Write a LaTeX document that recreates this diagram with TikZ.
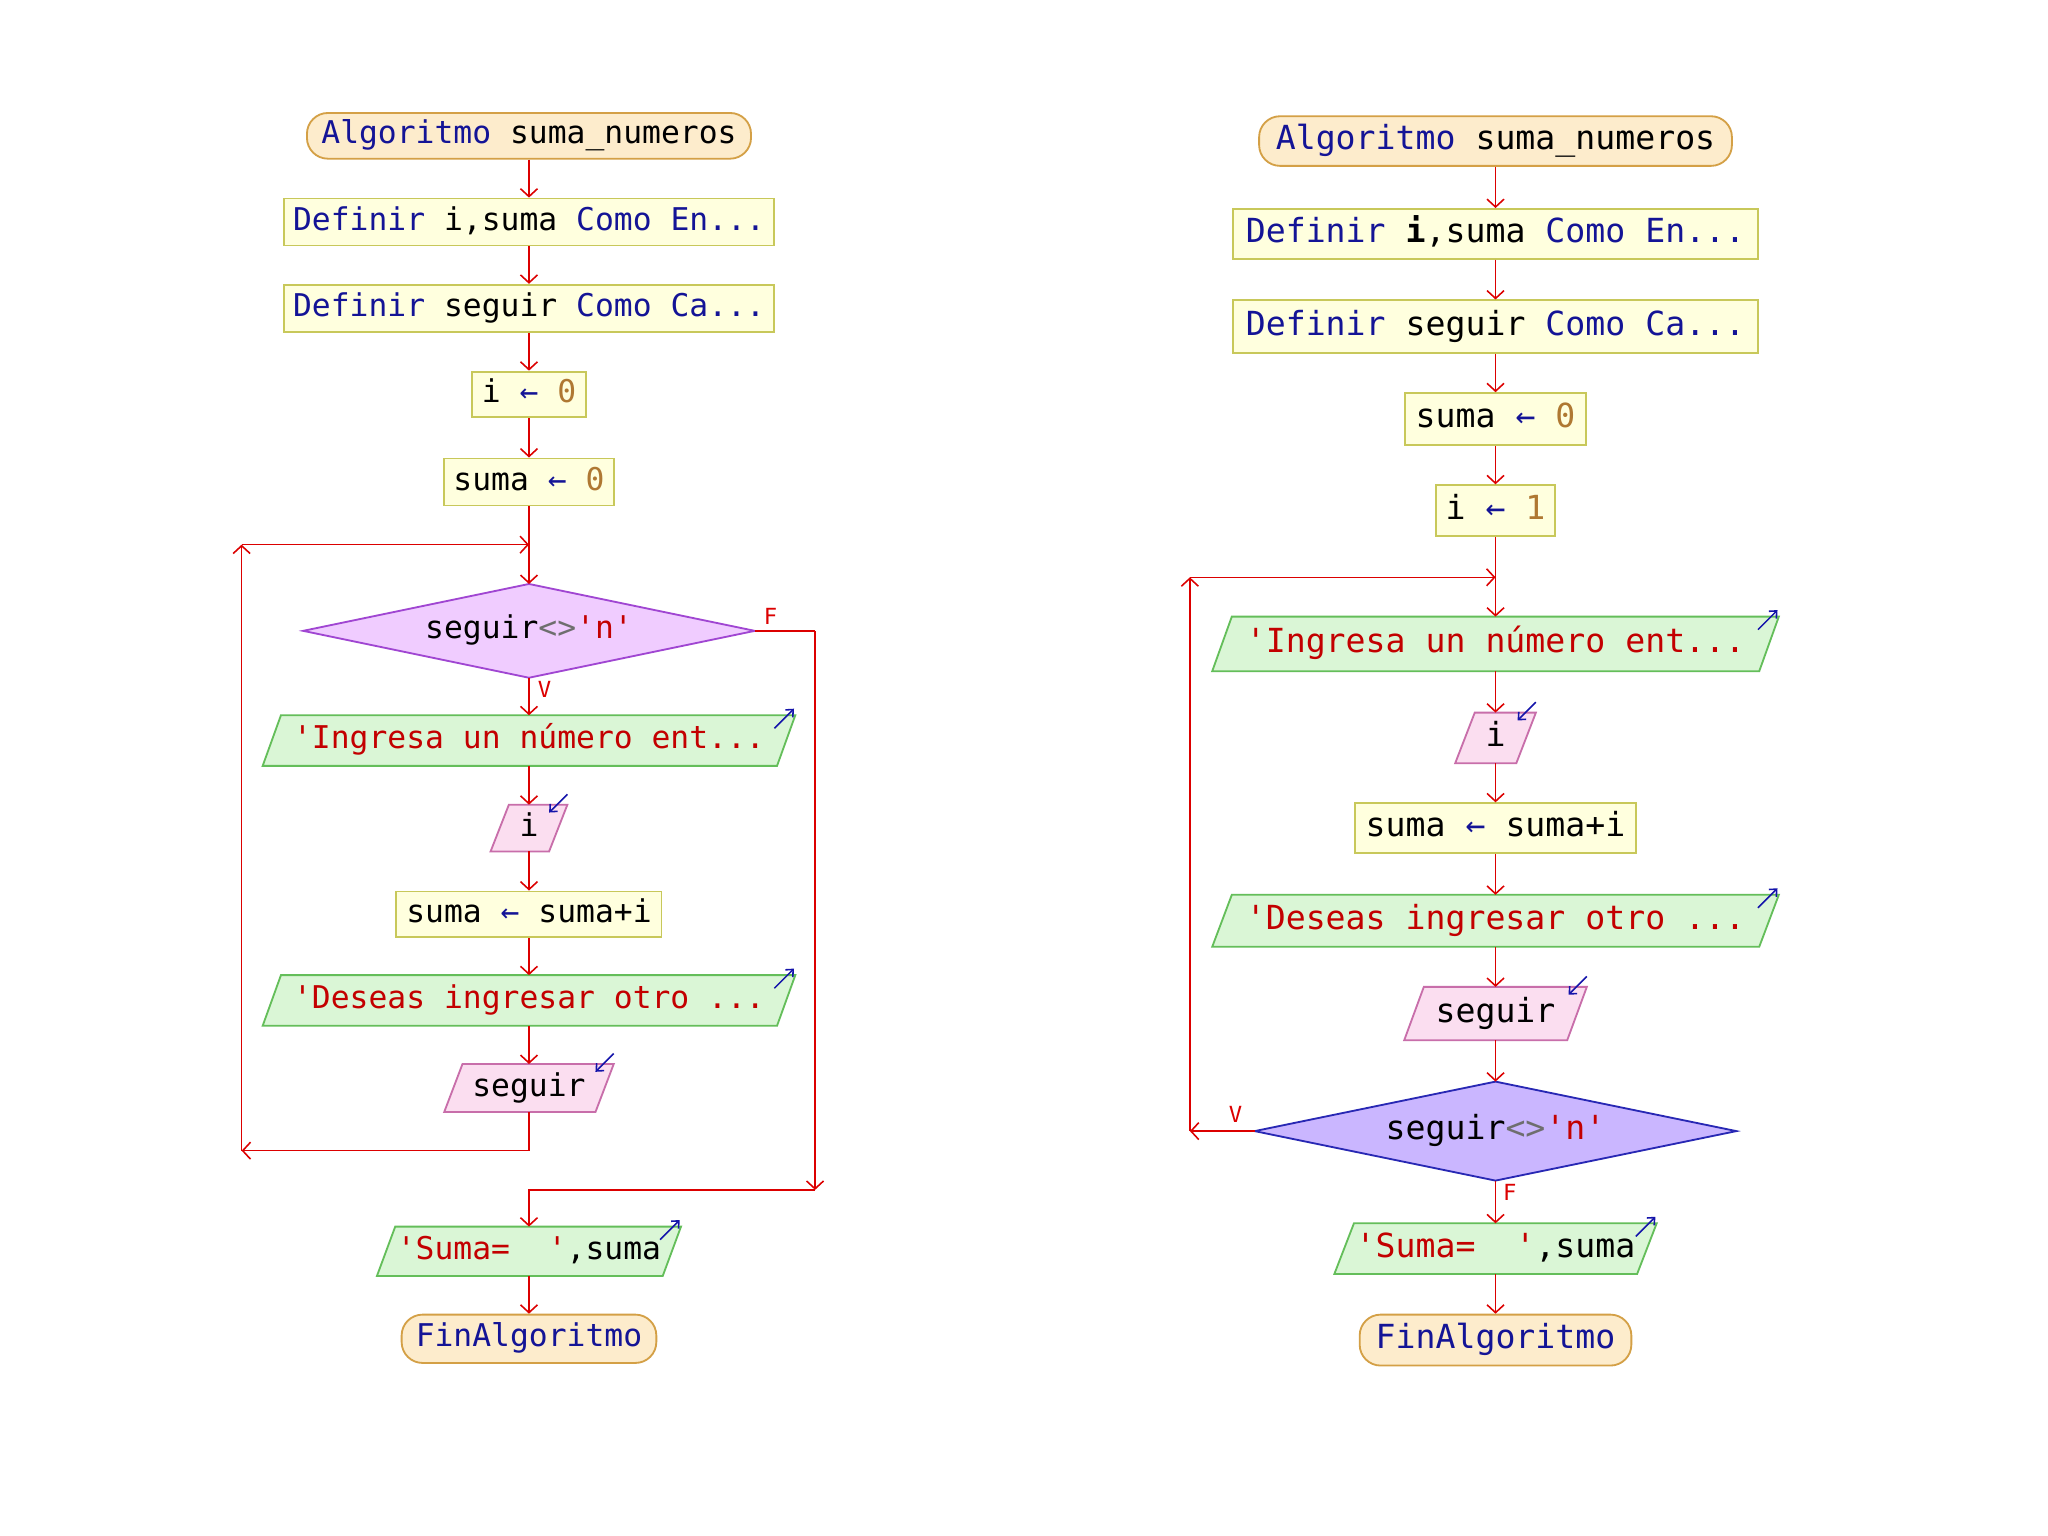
\documentclass[tikz,border=0pt]{standalone}
\usepackage{fontspec}
\setmonofont{DejaVu Sans Mono}
\usetikzlibrary{arrows.meta}
\definecolor{termF}{RGB}{253,236,204}
\definecolor{termD}{RGB}{212,160,70}
\definecolor{procF}{RGB}{255,255,222}
\definecolor{procD}{RGB}{200,200,90}
\definecolor{outF}{RGB}{218,246,214}
\definecolor{outD}{RGB}{100,190,90}
\definecolor{inF}{RGB}{251,222,240}
\definecolor{inD}{RGB}{200,110,170}
\definecolor{decLF}{RGB}{240,204,255}
\definecolor{decLD}{RGB}{160,70,210}
\definecolor{decRF}{RGB}{202,182,255}
\definecolor{decRD}{RGB}{40,40,180}
\definecolor{cred}{RGB}{220,0,0}
\definecolor{kw}{RGB}{20,20,150}
\definecolor{strc}{RGB}{195,0,0}
\definecolor{numc}{RGB}{175,120,50}
\definecolor{opc}{RGB}{110,110,110}
\definecolor{ioarr}{RGB}{20,20,170}
\pgfdeclarelayer{bg}
\pgfsetlayers{bg,main}
\newcommand{\kwd}[1]{\textcolor{kw}{#1}}
\newcommand{\strg}[1]{\textcolor{strc}{#1}}
\newcommand{\numb}[1]{\textcolor{numc}{#1}}
\newcommand{\opr}[1]{\textcolor{opc}{#1}}
\newcommand{\asg}{\textcolor{kw}{←}}
\newcommand{\pgshape}[3]{\path[#3] ([xshift=#2]#1.north west) -- ([xshift=#2]#1.north east) -- ([xshift=-#2]#1.south east) -- ([xshift=-#2]#1.south west) -- cycle;}
\newcommand{\outarrow}[2]{\draw[ioa] ([xshift=#2-8pt,yshift=-5pt]#1.north east) -- ([xshift=#2-0.5pt,yshift=2.5pt]#1.north east);}
\newcommand{\inarrow}[2]{\draw[ioa] ([xshift=#2,yshift=4pt]#1.north east) -- ([xshift=#2-7pt,yshift=-3pt]#1.north east);}
\tikzset{
 txtL/.style={font=\ttfamily\fontsize{12}{14}\selectfont, inner sep=0pt, text height=8.6pt, text depth=2.4pt},
 txtR/.style={font=\ttfamily\fontsize{12.7}{15}\selectfont, inner sep=0pt, text height=9.1pt, text depth=2.5pt},
 termbox/.style={draw=termD, fill=termF, line width=0.7pt, rounded corners=8pt},
 procbox/.style={draw=procD, fill=procF, line width=0.7pt},
 outshape/.style={draw=outD, fill=outF, line width=0.7pt},
 inshape/.style={draw=inD, fill=inF, line width=0.7pt},
 decL/.style={draw=decLD, fill=decLF, line width=0.7pt},
 decR/.style={draw=decRD, fill=decRF, line width=0.7pt},
 arr/.style={draw=cred, line width=0.6pt, -{Straight Barb[length=3pt,width=6.5pt]}},
 lnk/.style={draw=cred, line width=0.6pt},
 ioa/.style={draw=ioarr, line width=0.6pt, -{Straight Barb[length=2.2pt,width=4pt]}},
 lab/.style={font=\ttfamily\fontsize{8.5}{10}\selectfont, text=cred, inner sep=0pt},
}
\begin{document}
\begin{tikzpicture}[x=0.5pt,y=-0.5pt]
\begin{pgfonlayer}{bg}
\fill[white] (0,0) rectangle (1568,1176);
\end{pgfonlayer}
\useasboundingbox (0,0) rectangle (1568,1176);
% ---------------- left chart ----------------
\node[termbox, txtL, minimum width=170pt, minimum height=17.5pt] (L0) at (405,104) {\kwd{Algoritmo} suma\_numeros};
\node[procbox, txtL, minimum width=187.5pt, minimum height=18pt] (L1) at (405,170) {\kwd{Definir} i,suma \kwd{Como} \kwd{En...}};
\node[procbox, txtL, minimum width=187.5pt, minimum height=18pt] (L2) at (405,236) {\kwd{Definir} seguir \kwd{Como} \kwd{Ca...}};
\node[procbox, txtL, minimum width=43.5pt, minimum height=17.5pt] (L3) at (405,302) {i \asg{} \numb{0}};
\node[procbox, txtL, minimum width=65pt, minimum height=18pt] (L4) at (405,369) {suma \asg{} \numb{0}};
\node[txtL, minimum width=172.5pt, minimum height=35.5pt] (L5) at (405,483) {seguir\opr{<>}\strg{'n'}};
\node[txtL, minimum width=196.5pt, minimum height=19pt] (L6) at (405,567) {\strg{'Ingresa un número ent...}};
\node[txtL, minimum width=22pt, minimum height=17.5pt] (L7) at (405,634) {i};
\node[procbox, txtL, minimum width=101.5pt, minimum height=17.5pt] (L8) at (405,700) {suma \asg{} suma+i};
\node[txtL, minimum width=196.5pt, minimum height=19pt] (L9) at (405,766) {\strg{'Deseas ingresar otro ...}};
\node[txtL, minimum width=57.5pt, minimum height=18pt] (L10) at (405,833) {seguir};
\node[txtL, minimum width=109pt, minimum height=18.5pt] (L11) at (405,958) {\strg{'Suma=\ \ '},suma};
\node[termbox, txtL, minimum width=97.5pt, minimum height=18.5pt] (L12) at (405,1025) {\kwd{FinAlgoritmo}};
\coordinate (cLa) at (185,881);
\coordinate (cLb) at (185,417);
\coordinate (cLc) at (405,417);
\coordinate (cF1) at (624,483);
\coordinate (cF2) at (624,911);
% ---------------- right chart ----------------
\node[termbox, txtR, minimum width=181pt, minimum height=19pt] (R0) at (1145,108) {\kwd{Algoritmo} suma\_numeros};
\node[procbox, txtR, minimum width=201pt, minimum height=19pt] (R1) at (1145,179) {\kwd{Definir} \textbf{i},suma \kwd{Como} \kwd{En...}};
\node[procbox, txtR, minimum width=201pt, minimum height=20pt] (R2) at (1145,250) {\kwd{Definir} seguir \kwd{Como} \kwd{Ca...}};
\node[procbox, txtR, minimum width=69.5pt, minimum height=20pt] (R3) at (1145,321) {suma \asg{} \numb{0}};
\node[procbox, txtR, minimum width=45.5pt, minimum height=19.5pt] (R4) at (1145,391) {i \asg{} \numb{1}};
\node[txtR, minimum width=209pt, minimum height=20.5pt] (R5) at (1145,493) {\strg{'Ingresa un número ent...}};
\node[txtR, minimum width=23pt, minimum height=19pt] (R6) at (1145,565) {i};
\node[procbox, txtR, minimum width=107.5pt, minimum height=19pt] (R7) at (1145,634) {suma \asg{} suma+i};
\node[txtR, minimum width=209pt, minimum height=19.5pt] (R8) at (1145,705) {\strg{'Deseas ingresar otro ...}};
\node[txtR, minimum width=62pt, minimum height=20pt] (R9) at (1145,776) {seguir};
\node[txtR, minimum width=184pt, minimum height=37.5pt] (R10) at (1145,866) {seguir\opr{<>}\strg{'n'}};
\node[txtR, minimum width=115.5pt, minimum height=19pt] (R11) at (1145,956) {\strg{'Suma=\ \ '},suma};
\node[termbox, txtR, minimum width=104pt, minimum height=19.5pt] (R12) at (1145,1026) {\kwd{FinAlgoritmo}};
\coordinate (cRa) at (911,866);
\coordinate (cRb) at (911,442);
\coordinate (cRc) at (1145,442);
% ---------------- background shapes ----------------
\begin{pgfonlayer}{bg}
 \pgshape{L6}{3.5pt}{outshape}
 \pgshape{L7}{3.5pt}{inshape}
 \pgshape{L9}{3.5pt}{outshape}
 \pgshape{L10}{3.5pt}{inshape}
 \pgshape{L11}{3.5pt}{outshape}
 \path[decL] (L5.north) -- (L5.east) -- (L5.south) -- (L5.west) -- cycle;
 \pgshape{R5}{3.75pt}{outshape}
 \pgshape{R6}{3.75pt}{inshape}
 \pgshape{R8}{3.75pt}{outshape}
 \pgshape{R9}{3.75pt}{inshape}
 \pgshape{R11}{3.75pt}{outshape}
 \path[decR] (R10.north) -- (R10.east) -- (R10.south) -- (R10.west) -- cycle;
\end{pgfonlayer}
% io arrows
\outarrow{L6}{3.5pt}
\inarrow{L7}{3.5pt}
\outarrow{L9}{3.5pt}
\inarrow{L10}{3.5pt}
\outarrow{L11}{3.5pt}
\outarrow{R5}{3.75pt}
\inarrow{R6}{3.75pt}
\outarrow{R8}{3.75pt}
\inarrow{R9}{3.75pt}
\outarrow{R11}{3.75pt}
% ---------------- connectors left ----------------
\draw[arr] (L0) -- (L1);
\draw[arr] (L1) -- (L2);
\draw[arr] (L2) -- (L3);
\draw[arr] (L3) -- (L4);
\draw[arr] (L4) -- (L5);
\draw[arr] (L5) -- (L6);
\draw[arr] (L6) -- (L7);
\draw[arr] (L7) -- (L8);
\draw[arr] (L8) -- (L9);
\draw[arr] (L9) -- (L10);
\draw[arr] (L10.south) |- (cLa);
\draw[arr] (cLa) -- (cLb);
\draw[arr] (cLb) -- (cLc);
\draw[lnk] (L5.east) -- (cF1);
\draw[arr] (cF1) -- (cF2);
\draw[arr] (cF2) -| (L11.north);
\draw[arr] (L11) -- (L12);
\node[lab] (vL) at (417,528) {V};
\node[lab] (fL) at (590,472) {F};
% ---------------- connectors right ----------------
\draw[arr] (R0) -- (R1);
\draw[arr] (R1) -- (R2);
\draw[arr] (R2) -- (R3);
\draw[arr] (R3) -- (R4);
\draw[arr] (R4) -- (R5);
\draw[arr] (R5) -- (R6);
\draw[arr] (R6) -- (R7);
\draw[arr] (R7) -- (R8);
\draw[arr] (R8) -- (R9);
\draw[arr] (R9) -- (R10);
\draw[arr] (R10.west) -- (cRa);
\draw[arr] (cRa) -- (cRb);
\draw[arr] (cRb) -- (cRc);
\draw[arr] (R10) -- (R11);
\draw[arr] (R11) -- (R12);
\node[lab] (vR) at (946,853) {V};
\node[lab] (fR) at (1156,913) {F};
\end{tikzpicture}
\end{document}
